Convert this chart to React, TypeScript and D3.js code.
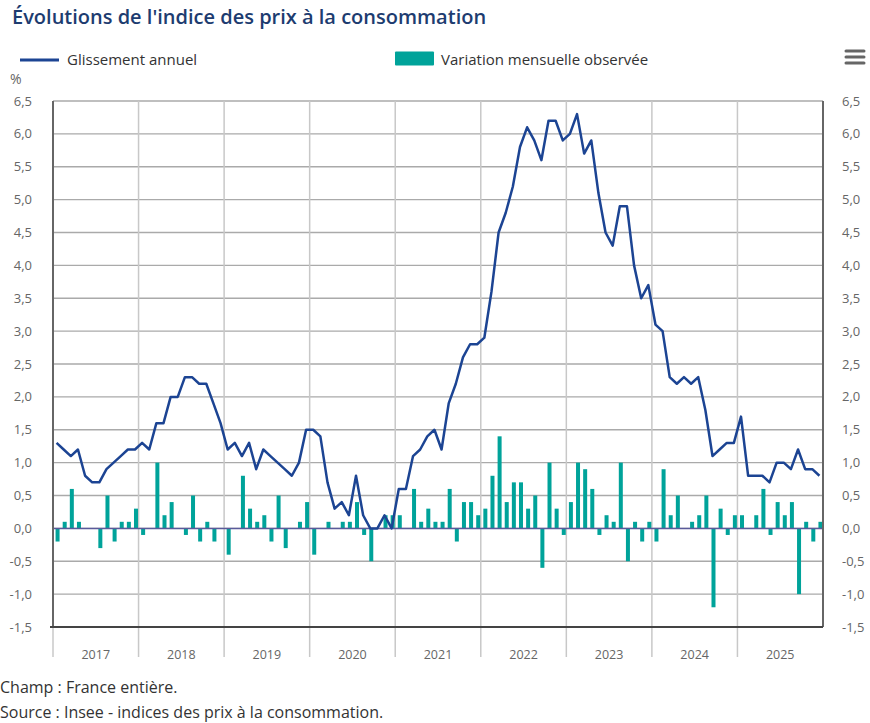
import React from "react";
import * as d3 from "d3";

const years = ["2017", "2018", "2019", "2020", "2021", "2022", "2023", "2024", "2025"];

// Glissement annuel (%), monthly Jan 2017 – Dec 2025
const annual2017 = [1.3, 1.2, 1.1, 1.2, 0.8, 0.7, 0.7, 0.9, 1.0, 1.1, 1.2, 1.2];
const annual2018 = [1.3, 1.2, 1.6, 1.6, 2.0, 2.0, 2.3, 2.3, 2.2, 2.2, 1.9, 1.6];
const annual2019 = [1.2, 1.3, 1.1, 1.3, 0.9, 1.2, 1.1, 1.0, 0.9, 0.8, 1.0, 1.5];
const annual2020 = [1.5, 1.4, 0.7, 0.3, 0.4, 0.2, 0.8, 0.2, 0.0, 0.0, 0.2, 0.0];
const annual2021 = [0.6, 0.6, 1.1, 1.2, 1.4, 1.5, 1.2, 1.9, 2.2, 2.6, 2.8, 2.8];
const annual2022 = [2.9, 3.6, 4.5, 4.8, 5.2, 5.8, 6.1, 5.9, 5.6, 6.2, 6.2, 5.9];
const annual2023 = [6.0, 6.3, 5.7, 5.9, 5.1, 4.5, 4.3, 4.9, 4.9, 4.0, 3.5, 3.7];
const annual2024 = [3.1, 3.0, 2.3, 2.2, 2.3, 2.2, 2.3, 1.8, 1.1, 1.2, 1.3, 1.3];
const annual2025 = [1.7, 0.8, 0.8, 0.8, 0.7, 1.0, 1.0, 0.9, 1.2, 0.9, 0.9, 0.8];

// Variation mensuelle observée (%)
const monthly2017 = [-0.2, 0.1, 0.6, 0.1, 0.0, 0.0, -0.3, 0.5, -0.2, 0.1, 0.1, 0.3];
const monthly2018 = [-0.1, 0.0, 1.0, 0.2, 0.4, 0.0, -0.1, 0.5, -0.2, 0.1, -0.2, 0.0];
const monthly2019 = [-0.4, 0.0, 0.8, 0.3, 0.1, 0.2, -0.2, 0.5, -0.3, 0.0, 0.1, 0.4];
const monthly2020 = [-0.4, 0.0, 0.1, 0.0, 0.1, 0.1, 0.4, -0.1, -0.5, 0.0, 0.2, 0.2];
const monthly2021 = [0.2, 0.0, 0.6, 0.1, 0.3, 0.1, 0.1, 0.6, -0.2, 0.4, 0.4, 0.2];
const monthly2022 = [0.3, 0.8, 1.4, 0.4, 0.7, 0.7, 0.3, 0.5, -0.6, 1.0, 0.3, -0.1];
const monthly2023 = [0.4, 1.0, 0.9, 0.6, -0.1, 0.2, 0.1, 1.0, -0.5, 0.1, -0.2, 0.1];
const monthly2024 = [-0.2, 0.9, 0.2, 0.5, 0.0, 0.1, 0.2, 0.5, -1.2, 0.3, -0.1, 0.2];
const monthly2025 = [0.2, 0.0, 0.2, 0.6, -0.1, 0.4, 0.2, 0.4, -1.0, 0.1, -0.2, 0.1];

const annual = [
  ...annual2017, ...annual2018, ...annual2019, ...annual2020, ...annual2021,
  ...annual2022, ...annual2023, ...annual2024, ...annual2025,
];
const monthly = [
  ...monthly2017, ...monthly2018, ...monthly2019, ...monthly2020, ...monthly2021,
  ...monthly2022, ...monthly2023, ...monthly2024, ...monthly2025,
];

const yTicks = [-1.5, -1.0, -0.5, 0, 0.5, 1.0, 1.5, 2.0, 2.5, 3.0, 3.5, 4.0, 4.5, 5.0, 5.5, 6.0, 6.5];

const W = 870;
const H = 723;
const FONT = "'Open Sans', sans-serif";
const LINE_COLOR = "#1c4493";
const BAR_COLOR = "#00a39a";

export default function App() {
  const left = 53;
  const right = 823;
  const top = 101;
  const bottom = 627;

  const idx = d3.range(annual.length);
  const x = d3.scaleBand<number>().domain(idx).range([left, right]).padding(0);
  const y = d3.scaleLinear().domain([-1.5, 6.5]).range([bottom, top]);
  const bw = x.bandwidth();
  const cx = (i: number) => (x(i) as number) + bw / 2;

  const line = d3
    .line<number>()
    .x((_, i) => cx(i))
    .y((d) => y(d));

  const fmt = (v: number) => v.toFixed(1).replace(".", ",");
  const barW = 4;
  const y0 = y(0);

  return (
    <div style={{ position: "absolute", left: 0, top: 0 }}>
      <svg width={W} height={H} style={{ display: "block", fontFamily: FONT }}>
        <rect x={0} y={0} width={W} height={H} fill="#fff" />
        <text x={12} y={24} fontSize={20} fontWeight={600} fill="#1d3c70">
          Évolutions de l'indice des prix à la consommation
        </text>

        {/* Legend */}
        <line x1={20} x2={59} y1={60} y2={60} stroke={LINE_COLOR} strokeWidth={3} />
        <text x={67} y={65} fontSize={15} fill="#333">Glissement annuel</text>
        <rect x={395} y={51.5} width={39} height={14} fill={BAR_COLOR} rx={1} />
        <text x={441} y={65} fontSize={15} fill="#333">Variation mensuelle observée</text>

        {/* menu icon */}
        {[51, 57, 63].map((yy) => (
          <line key={yy} x1={846} x2={864} y1={yy} y2={yy} stroke="#666" strokeWidth={3} strokeLinecap="round" />
        ))}

        <text x={10} y={84} fontSize={14} fill="#666">%</text>

        {/* horizontal grid */}
        {yTicks.map((t) => (
          <line key={"g" + t} x1={left} x2={right} y1={y(t)} y2={y(t)} stroke="#aaa" strokeWidth={1.3} />
        ))}

        {/* year separators */}
        {years.map((yr, k) =>
          k === 0 ? null : (
            <line
              key={"v" + yr}
              x1={x(k * 12) as number}
              x2={x(k * 12) as number}
              y1={top}
              y2={657}
              stroke="#c8c8c8"
              strokeWidth={1.5}
            />
          )
        )}
        <line x1={left} x2={left} y1={bottom} y2={657} stroke="#c8c8c8" strokeWidth={1.5} />

        {/* y labels */}
        {yTicks.map((t) => (
          <text key={"l" + t} x={32} y={y(t)} dy="0.35em" textAnchor="end" fontSize={13} fill="#666">
            {fmt(t)}
          </text>
        ))}
        {yTicks.map((t) => (
          <text key={"r" + t} x={842} y={y(t)} dy="0.35em" textAnchor="start" fontSize={13} fill="#666">
            {fmt(t)}
          </text>
        ))}

        {/* year labels */}
        {years.map((yr, k) => {
          const x1 = x(k * 12) as number;
          const x2 = k === years.length - 1 ? right : (x((k + 1) * 12) as number);
          return (
            <text key={"y" + yr} x={(x1 + x2) / 2} y={659} textAnchor="middle" fontSize={12.5} fill="#666">
              {yr}
            </text>
          );
        })}

        {/* bars */}
        {monthly.map((v, i) =>
          v === 0 ? null : (
            <rect
              key={"b" + i}
              x={cx(i) + 1 - barW / 2}
              y={Math.min(y(v), y0)}
              width={barW}
              height={Math.abs(y(v) - y0)}
              fill={BAR_COLOR}
            />
          )
        )}

        {/* zero line */}
        <line x1={left} x2={right} y1={y0} y2={y0} stroke="#5a5a9a" strokeWidth={1.5} />

        {/* annual line */}
        <path d={line(annual) || ""} fill="none" stroke={LINE_COLOR} strokeWidth={2.5} strokeLinejoin="round" />

        {/* axes */}
        <line x1={left} x2={left} y1={top} y2={bottom} stroke="#666" strokeWidth={2} />
        <line x1={right} x2={right} y1={top} y2={bottom} stroke="#666" strokeWidth={2} />
        <line x1={50} x2={right} y1={bottom} y2={bottom} stroke="#444" strokeWidth={2} />

        {/* footer */}
        <text x={0} y={693} fontSize={16} fill="#333">Champ : France entière.</text>
        <text x={0} y={718} fontSize={16} fill="#333">Source : Insee - indices des prix à la consommation.</text>
      </svg>
    </div>
  );
}
